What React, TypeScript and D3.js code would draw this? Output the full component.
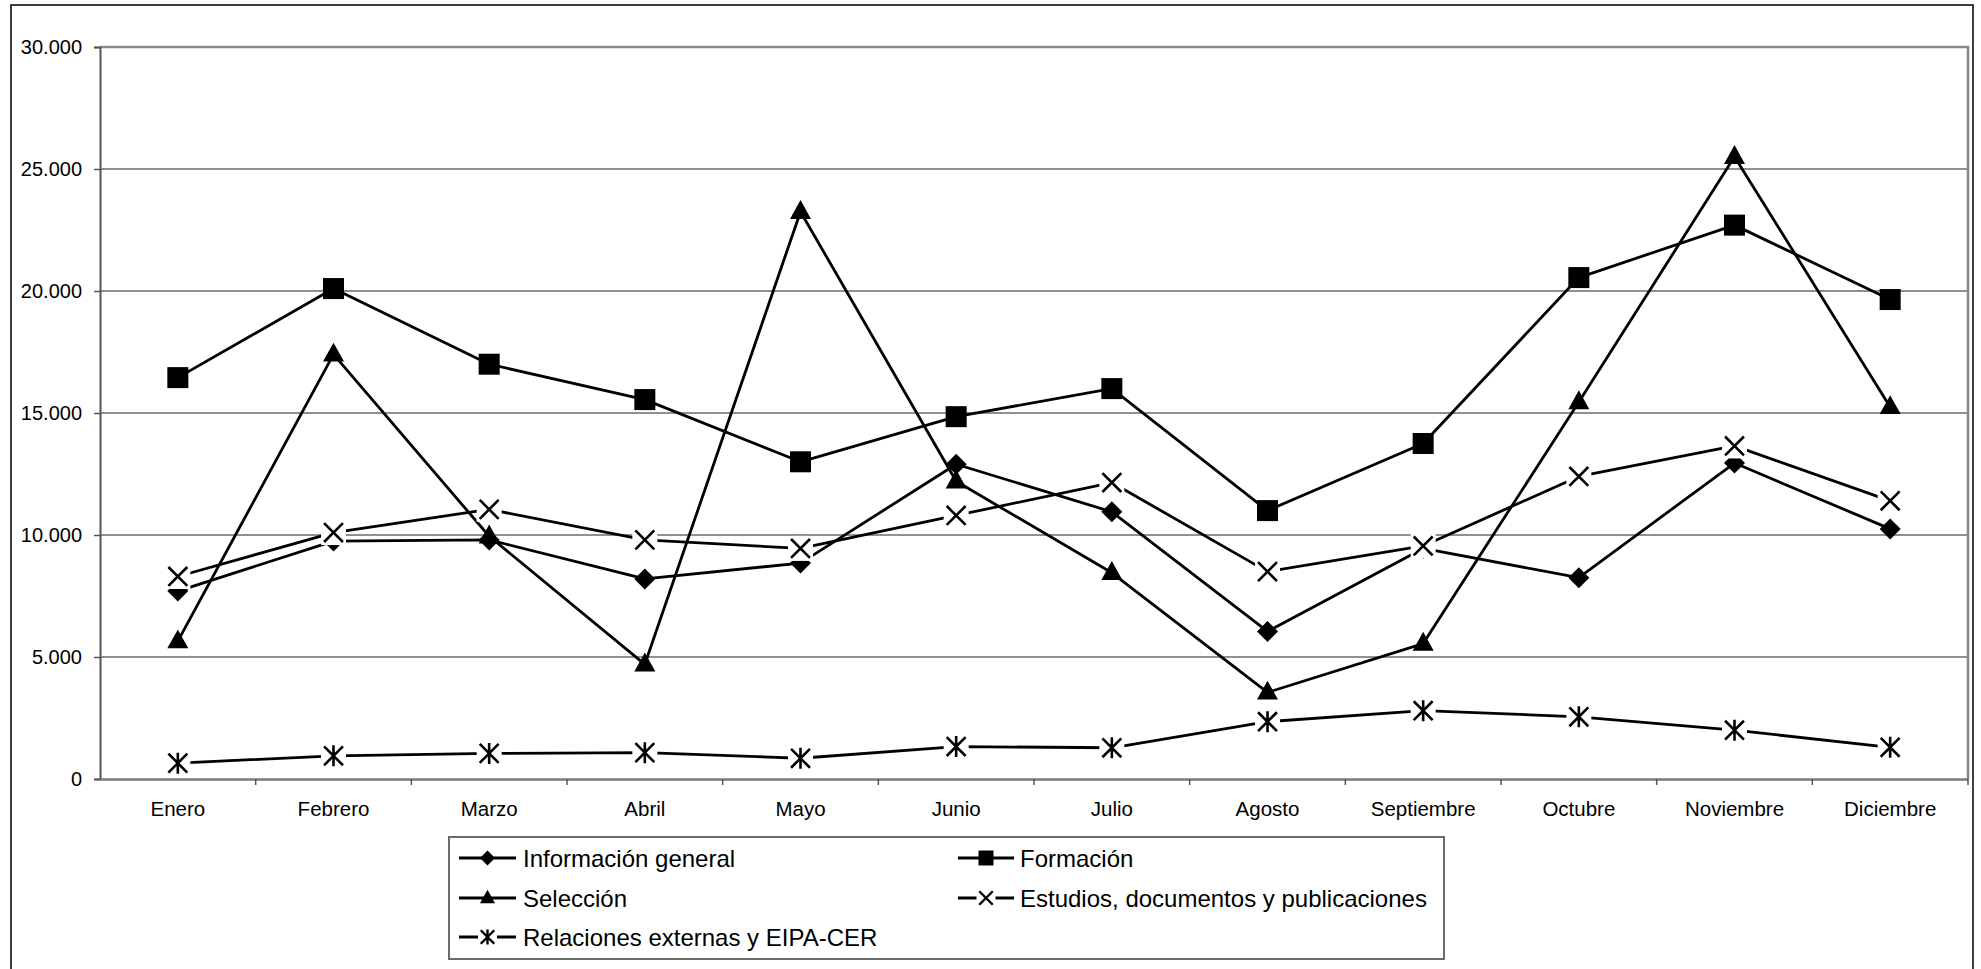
import { useEffect, useRef } from 'react'
import * as d3 from 'd3'

const months = ['Enero', 'Febrero', 'Marzo', 'Abril', 'Mayo', 'Junio', 'Julio', 'Agosto', 'Septiembre', 'Octubre', 'Noviembre', 'Diciembre']
const yTicks = [0, 5000, 10000, 15000, 20000, 25000, 30000]

const infoGeneral = [7700, 9750, 9800, 8200, 8850, 12900, 10950, 6050, 9450, 8250, 12950, 10250]
const formacion = [16450, 20100, 17000, 15550, 13000, 14850, 16000, 11000, 13750, 20550, 22700, 19650]
const seleccion = [5650, 17400, 9950, 4700, 23250, 12200, 8450, 3550, 5550, 15450, 25500, 15250]
const estudios = [8300, 10100, 11050, 9800, 9450, 10800, 12150, 8500, 9550, 12400, 13650, 11400]
const relaciones = [650, 950, 1050, 1080, 850, 1330, 1280, 2350, 2800, 2550, 2000, 1300]

type Marker = 'diamond' | 'square' | 'triangle' | 'x' | 'star'

const seriesNames = ['Información general', 'Formación', 'Selección', 'Estudios, documentos y publicaciones', 'Relaciones externas y EIPA-CER']
const seriesValues = [infoGeneral, formacion, seleccion, estudios, relaciones]
const seriesMarkers: Marker[] = ['diamond', 'square', 'triangle', 'x', 'star']

const W = 1981
const H = 969
const FONT = '"Liberation Sans", Arial, sans-serif'

// draws one marker centred at 0,0 into the given group
function drawMarker(g: d3.Selection<SVGGElement, unknown, null, undefined>, type: Marker, size: number, sw = 2.6) {
  const h = size / 2
  if (type === 'diamond') {
    g.append('path').attr('d', `M0,${-h}L${h},0L0,${h}L${-h},0Z`).attr('fill', '#000')
  } else if (type === 'square') {
    g.append('rect').attr('x', -h).attr('y', -h).attr('width', size).attr('height', size).attr('fill', '#000')
  } else if (type === 'triangle') {
    const th = size * 0.9
    g.append('path').attr('d', `M0,${-th * 0.62}L${h},${th * 0.38}L${-h},${th * 0.38}Z`).attr('fill', '#000')
  } else {
    const k = h * 0.9
    g.append('rect').attr('x', -h - 2).attr('y', -h - 2).attr('width', size + 4).attr('height', size + 4).attr('fill', '#fff')
    g.append('path')
      .attr('d', type === 'x'
        ? `M${-k},${-k}L${k},${k}M${k},${-k}L${-k},${k}`
        : `M${-k},${-k}L${k},${k}M${k},${-k}L${-k},${k}M0,${-h}L0,${h}`)
      .attr('stroke', '#000')
      .attr('stroke-width', sw)
      .attr('fill', 'none')
  }
}

export default function App() {
  const svgRef = useRef<SVGSVGElement>(null)

  useEffect(() => {
    if (!svgRef.current) return
    const svg = d3.select(svgRef.current)
    svg.selectAll('*').remove()

    const plot = { left: 100, right: 1968, top: 47, bottom: 779 }

    const x = d3.scaleBand<string>().domain(months).range([plot.left, plot.right]).padding(0)
    const y = d3.scaleLinear().domain([0, 30000]).range([plot.bottom, plot.top])
    const cx = (m: string) => (x(m) ?? 0) + x.bandwidth() / 2

    svg.append('rect').attr('width', W).attr('height', H).attr('fill', '#fff')

    // outer chart border (bottom edge runs off the picture)
    svg.append('rect')
      .attr('x', 11).attr('y', 5).attr('width', 1962).attr('height', 990)
      .attr('fill', 'none').attr('stroke', '#000').attr('stroke-width', 1.5)

    // gridlines
    svg.append('g')
      .selectAll('line')
      .data(yTicks.filter(t => t > 0 && t < 30000))
      .enter()
      .append('line')
      .attr('x1', plot.left).attr('x2', plot.right)
      .attr('y1', d => y(d)).attr('y2', d => y(d))
      .attr('stroke', '#222').attr('stroke-width', 1.2)

    // plot area border top and right
    svg.append('path')
      .attr('d', `M${plot.left},${y(30000)}L${plot.right},${y(30000)}L${plot.right},${plot.bottom}`)
      .attr('fill', 'none').attr('stroke', '#8a8a8a').attr('stroke-width', 2.6)

    // y axis
    const yAxis = svg.append('g')
      .attr('transform', `translate(${plot.left},0)`)
      .call(d3.axisLeft(y).tickValues(yTicks).tickSize(6).tickPadding(12)
        .tickFormat(d => d3.format(',')(d as number).replace(/,/g, '.')))
    yAxis.select('.domain').attr('stroke', '#555').attr('stroke-width', 2)
    yAxis.selectAll('.tick line').attr('stroke', '#555').attr('stroke-width', 1.5)
    yAxis.selectAll('text').attr('font-family', FONT).attr('font-size', 20).attr('fill', '#000')

    // x axis
    const xAxis = svg.append('g')
      .attr('transform', `translate(0,${plot.bottom})`)
      .call(d3.axisBottom(x).tickSize(0).tickPadding(22))
    xAxis.select('.domain').attr('stroke', '#7a7a7a').attr('stroke-width', 2.6)
    xAxis.selectAll('text').attr('font-family', FONT).attr('font-size', 20.5).attr('fill', '#000')
    svg.append('g')
      .selectAll('line')
      .data(months)
      .enter()
      .append('line')
      .attr('x1', d => x(d)! + x.bandwidth())
      .attr('x2', d => x(d)! + x.bandwidth())
      .attr('y1', plot.bottom).attr('y2', plot.bottom + 6)
      .attr('stroke', '#555').attr('stroke-width', 1.5)

    const line = d3.line<number>()
      .x((d, i) => cx(months[i]))
      .y(d => y(d))

    seriesValues.forEach((vals, si) => {
      svg.append('path')
        .datum(vals)
        .attr('fill', 'none')
        .attr('stroke', '#000')
        .attr('stroke-width', 2.8)
        .attr('stroke-linejoin', 'round')
        .attr('d', line)
      vals.forEach((v, i) => {
        const g = svg.append('g').attr('transform', `translate(${cx(months[i])},${y(v)})`)
        drawMarker(g, seriesMarkers[si], 21)
      })
    })

    // legend
    const lg = svg.append('g')
    lg.append('rect')
      .attr('x', 449).attr('y', 837).attr('width', 995).attr('height', 122)
      .attr('fill', '#fff').attr('stroke', '#6a6a6a').attr('stroke-width', 2)
    const cols = [{ x1: 459, x2: 516, tx: 523 }, { x1: 958, x2: 1014, tx: 1020 }]
    const rows = [858, 898, 937]
    seriesNames.forEach((name, i) => {
      const c = cols[i % 2]
      const ry = rows[Math.floor(i / 2)]
      lg.append('line')
        .attr('x1', c.x1).attr('x2', c.x2).attr('y1', ry).attr('y2', ry)
        .attr('stroke', '#000').attr('stroke-width', 2.8)
      const mg = lg.append('g').attr('transform', `translate(${(c.x1 + c.x2) / 2},${ry})`)
      drawMarker(mg, seriesMarkers[i], 15, 2.4)
      lg.append('text')
        .attr('x', c.tx).attr('y', ry)
        .attr('dy', '0.36em')
        .attr('font-family', FONT).attr('font-size', 24)
        .text(name)
    })
  }, [])

  return (
    <div style={{ position: 'absolute', left: 0, top: 0 }}>
      <svg ref={svgRef} width={W} height={H} style={{ display: 'block' }} />
    </div>
  )
}
